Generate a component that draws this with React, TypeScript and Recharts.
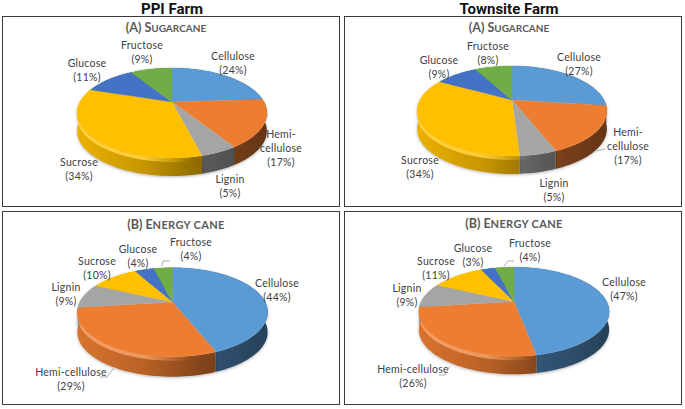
import React from "react";
import { PieChart, Pie } from "recharts";

// ---- data ----
const categories = ["Cellulose", "Hemi-cellulose", "Lignin", "Sucrose", "Glucose", "Fructose"];
const ppiSugarcane = [24, 17, 5, 34, 11, 9];
const townsiteSugarcane = [27, 17, 5, 34, 9, 8];
const ppiEnergyCane = [44, 29, 9, 10, 4, 4];
const townsiteEnergyCane = [47, 26, 9, 11, 3, 4];
const farmTitles = ["PPI Farm", "Townsite Farm"];

// ---- styles and layout ----
const colors = ["#5B9BD5", "#ED7D31", "#A5A5A5", "#FFC000", "#4472C4", "#70AD47"];
const TEXT = "#404040";
const FONT = "Lato, 'Open Sans', sans-serif";

type Geo = { cx: number; cy: number; R: number; k: number; p: number; depth: number };
type Panel = {
  id: string;
  values: number[];
  geo: Geo;
  wrapHemi: boolean;
  labelPos: [number, number][];
  leaders: string[];
  frame: [number, number, number, number];
  head: [string, string, number, number, number, number];
};

const panels: Panel[] = [
  {
    id: "a1",
    values: ppiSugarcane,
    geo: { cx: 172, cy: 102, R: 92, k: 42.3, p: 0.244, depth: 18 },
    wrapHemi: true,
    labelPos: [[233, 56], [281, 134], [230, 179], [79, 162], [87, 63], [142, 45]],
    leaders: [],
    frame: [2, 16, 338, 191],
    head: ["(A) S", "UGARCANE", 166, 28, 10, 0],
  },
  {
    id: "a2",
    values: townsiteSugarcane,
    geo: { cx: 512, cy: 100, R: 92, k: 42.3, p: 0.244, depth: 18 },
    wrapHemi: true,
    labelPos: [[579, 57], [628, 132], [554, 183], [420, 160], [439, 60], [488, 46]],
    leaders: ["596,151 605,149"],
    frame: [344, 16, 338, 191],
    head: ["(A) S", "UGARCANE", 509, 28, 10, 0],
  },
  {
    id: "b1",
    values: ppiEnergyCane,
    geo: { cx: 172.5, cy: 302, R: 92.6, k: 42.2, p: 0.229, depth: 20 },
    wrapHemi: false,
    labelPos: [[277, 283], [71, 372], [66, 287], [97, 261], [138, 249], [191, 242]],
    leaders: ["162,266 163,261 170,261", "100,377 107,377 114,368"],
    frame: [2, 211, 338, 194],
    head: ["(B) E", "NERGY CANE", 176, 225, 11, 0.35],
  },
  {
    id: "b2",
    values: townsiteEnergyCane,
    geo: { cx: 514, cy: 301.5, R: 92.6, k: 42.2, p: 0.229, depth: 18 },
    wrapHemi: false,
    labelPos: [[624, 282], [413, 369], [407, 288], [436, 261], [473, 248], [530, 243]],
    leaders: ["504,266 508,261 514,261", "439,375 445,375 450,366"],
    frame: [344, 211, 338, 194],
    head: ["(B) E", "NERGY CANE", 514, 224, 11, 0.35],
  },
];

// ---- perspective projection of the pie's disc ----
const project = (g: Geo, deg: number): [number, number] => {
  const a = (deg * Math.PI) / 180;
  const u = Math.cos(a);
  const v = Math.sin(a);
  const w = 1 + g.p * v;
  return [g.cx + (g.R * u) / w, g.cy - (g.k * v) / w];
};

const arcPoints = (g: Geo, start: number, end: number, dy = 0): [number, number][] => {
  const n = Math.max(2, Math.ceil(Math.abs(end - start) / 2));
  const pts: [number, number][] = [];
  for (let i = 0; i <= n; i++) {
    const [x, y] = project(g, start + ((end - start) * i) / n);
    pts.push([x, y + dy]);
  }
  return pts;
};

const toPath = (pts: [number, number][]) =>
  pts.map((q, i) => `${i ? "L" : "M"}${q[0].toFixed(2)} ${q[1].toFixed(2)}`).join(" ") + " Z";

const shade = (hex: string, f: number) => {
  const n = parseInt(hex.slice(1), 16);
  const c = [(n >> 16) & 255, (n >> 8) & 255, n & 255].map((x) => Math.round(x * f));
  return `rgb(${c[0]},${c[1]},${c[2]})`;
};
const tint = (hex: string, f: number) => {
  const n = parseInt(hex.slice(1), 16);
  const c = [(n >> 16) & 255, (n >> 8) & 255, n & 255].map((x) => Math.round(x + (255 - x) * f));
  return `rgb(${c[0]},${c[1]},${c[2]})`;
};

const makeSide = (panel: Panel) => (props: any) => {
  const g = panel.geo;
  const i = props.index ?? 0;
  const c = colors[i];
  const top = arcPoints(g, props.startAngle, props.endAngle);
  const bottom = arcPoints(g, props.startAngle, props.endAngle, g.depth).reverse();
  const rim = arcPoints(g, props.startAngle, props.endAngle, 4).reverse();
  const x1 = g.cx - g.R * 1.03;
  const x2 = g.cx + g.R * 1.03;
  const id = `${panel.id}-s${i}`;
  return (
    <g style={{ filter: "drop-shadow(0 1.5px 1.5px rgba(0,0,0,0.28))" }}>
      <defs>
        <linearGradient id={id} gradientUnits="userSpaceOnUse" x1={x1} x2={x2} y1="0" y2="0">
          <stop offset="0" stopColor={shade(c, 0.92)} />
          <stop offset="0.35" stopColor={shade(c, 0.78)} />
          <stop offset="0.65" stopColor={shade(c, 0.55)} />
          <stop offset="1" stopColor={shade(c, 0.42)} />
        </linearGradient>
        <linearGradient id={id + "h"} gradientUnits="userSpaceOnUse" x1={x1} x2={x2} y1="0" y2="0">
          <stop offset="0" stopColor={tint(c, 0.25)} stopOpacity="1" />
          <stop offset="0.35" stopColor={tint(c, 0.25)} stopOpacity="0.9" />
          <stop offset="0.6" stopColor={tint(c, 0.1)} stopOpacity="0" />
        </linearGradient>
      </defs>
      <path d={toPath([...top, ...bottom])} fill={`url(#${id})`} />
      <path d={toPath([...top, ...rim])} fill={`url(#${id}h)`} />
    </g>
  );
};

const makeTop = (panel: Panel) => (props: any) => {
  const g = panel.geo;
  const c = colors[props.index ?? 0];
  const pts = [[g.cx, g.cy] as [number, number], ...arcPoints(g, props.startAngle, props.endAngle)];
  return <path d={toPath(pts)} fill={c} stroke={c} strokeWidth={0.3} />;
};

const labelLines = (panel: Panel, index: number) => {
  const name = categories[index];
  const value = `(${panel.values[index]}%)`;
  if (panel.wrapHemi && name.startsWith("Hemi-")) return ["Hemi-", "cellulose", value];
  return [name, value];
};

const makeLabel = (panel: Panel) => (props: any) => {
  const i = props.index ?? 0;
  const [x, y] = panel.labelPos[i];
  return (
    <text
      key={`${panel.id}-l${i}`}
      x={x}
      y={y}
      textAnchor="middle"
      fontFamily={FONT}
      fontSize={10.5}
      letterSpacing={0.25}
      fill={TEXT}
    >
      {labelLines(panel, i).map((t, j) => (
        <tspan key={j} x={x} y={y + 3.5 + j * 14}>
          {t}
        </tspan>
      ))}
    </text>
  );
};

const rows = (panel: Panel) => categories.map((name, i) => ({ name, value: panel.values[i] }));

export default function App() {
  return (
    <div style={{ position: "absolute", left: 0, top: 0, width: 685, height: 409, background: "#fff" }}>
      {farmTitles.map((t, i) => (
        <div
          key={t}
          style={{
            position: "absolute",
            left: i === 0 ? 72 : 409,
            width: 200,
            top: 0,
            textAlign: "center",
            fontFamily: "Roboto, sans-serif",
            fontWeight: 700,
            fontSize: 15,
            lineHeight: "18px",
            color: "#111",
          }}
        >
          {t}
        </div>
      ))}
      {panels.map((p) => (
        <div
          key={p.id}
          style={{
            position: "absolute",
            left: p.frame[0],
            top: p.frame[1],
            width: p.frame[2],
            height: p.frame[3],
            boxSizing: "border-box",
            border: "1.6px solid #3a3a3a",
          }}
        />
      ))}
      {panels.map((p) => (
        <div
          key={p.id + "h"}
          style={{
            position: "absolute",
            left: p.head[2] - 100,
            width: 200,
            top: p.head[3] - 9,
            textAlign: "center",
            fontFamily: FONT,
            fontWeight: 700,
            fontSize: 12.5,
            lineHeight: "18px",
            color: "#595959",
          }}
        >
          {p.head[0]}
          <span style={{ fontSize: p.head[4], letterSpacing: p.head[5] }}>{p.head[1]}</span>
        </div>
      ))}
      <div style={{ position: "absolute", left: 0, top: 0 }}>
        <PieChart width={685} height={409} margin={{ top: 0, right: 0, bottom: 0, left: 0 }}>
          {panels.map((p) => (
            <Pie
              key={p.id + "side"}
              data={rows(p)}
              dataKey="value"
              nameKey="name"
              cx={p.geo.cx}
              cy={p.geo.cy}
              outerRadius={p.geo.R}
              startAngle={90}
              endAngle={-270}
              stroke="none"
              shape={makeSide(p)}
              isAnimationActive={false}
            />
          ))}
          {panels.map((p) => (
            <Pie
              key={p.id + "top"}
              data={rows(p)}
              dataKey="value"
              nameKey="name"
              cx={p.geo.cx}
              cy={p.geo.cy}
              outerRadius={p.geo.R}
              startAngle={90}
              endAngle={-270}
              stroke="none"
              shape={makeTop(p)}
              label={makeLabel(p)}
              labelLine={false}
              isAnimationActive={false}
            />
          ))}
        </PieChart>
      </div>
      <svg width={685} height={409} style={{ position: "absolute", left: 0, top: 0, pointerEvents: "none" }}>
        {panels.flatMap((p) =>
          p.leaders.map((pts, i) => (
            <polyline key={p.id + i} points={pts} fill="none" stroke="#a6a6a6" strokeWidth={0.9} />
          ))
        )}
      </svg>
    </div>
  );
}
